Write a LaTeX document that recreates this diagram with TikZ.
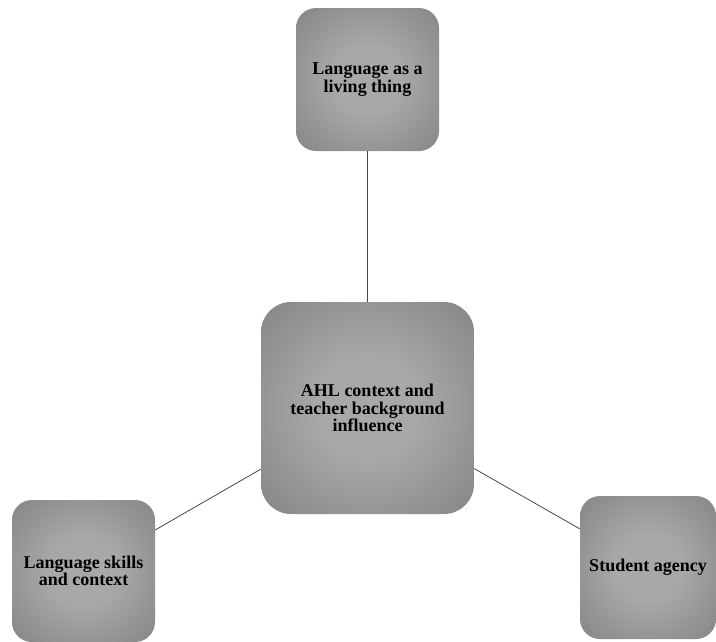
\documentclass[tikz,border=0pt]{standalone}
\usepackage{fontspec}
\setmainfont{Liberation Serif}
\definecolor{boxlight}{RGB}{168,168,168}
\definecolor{boxdark}{RGB}{112,112,112}
\definecolor{linkgray}{RGB}{70,70,70}
\pgfdeclareradialshading{boxglow}{\pgfpoint{0bp}{0bp}}{%
  color(0bp)=(boxlight); color(12bp)=(boxlight); color(50bp)=(boxdark); color(72bp)=(boxdark!90!black)}
\begin{document}
\begin{tikzpicture}[x=1pt,y=-1pt,
  topic/.style={shading=boxglow, rounded corners=20pt, align=center,
    inner sep=2pt, text=black,
    font=\bfseries\fontsize{18}{17.5}\selectfont},
  link/.style={draw=linkgray, line width=0.8pt}]
  \useasboundingbox (0,0) rectangle (716,641);

  % central theme
  \node[topic, rounded corners=30pt, minimum width=213pt, minimum height=212pt]
    (core) at (367.5,408) {AHL context and\\teacher background\\influence};

  % surrounding themes
  \node[topic, minimum width=143pt, minimum height=143pt]
    (living) at (367.5,79.5) {Language as a\\living thing};
  \node[topic, minimum width=143pt, minimum height=142pt]
    (skills) at (83.5,571) {Language skills\\and context};
  \node[topic, minimum width=136pt, minimum height=143pt]
    (agency) at (648,567.5) {Student agency};

  % connectors
  \draw[link] (living) -- (core);
  \draw[link] (core) -- (skills);
  \draw[link] (core) -- (agency);
\end{tikzpicture}
\end{document}
